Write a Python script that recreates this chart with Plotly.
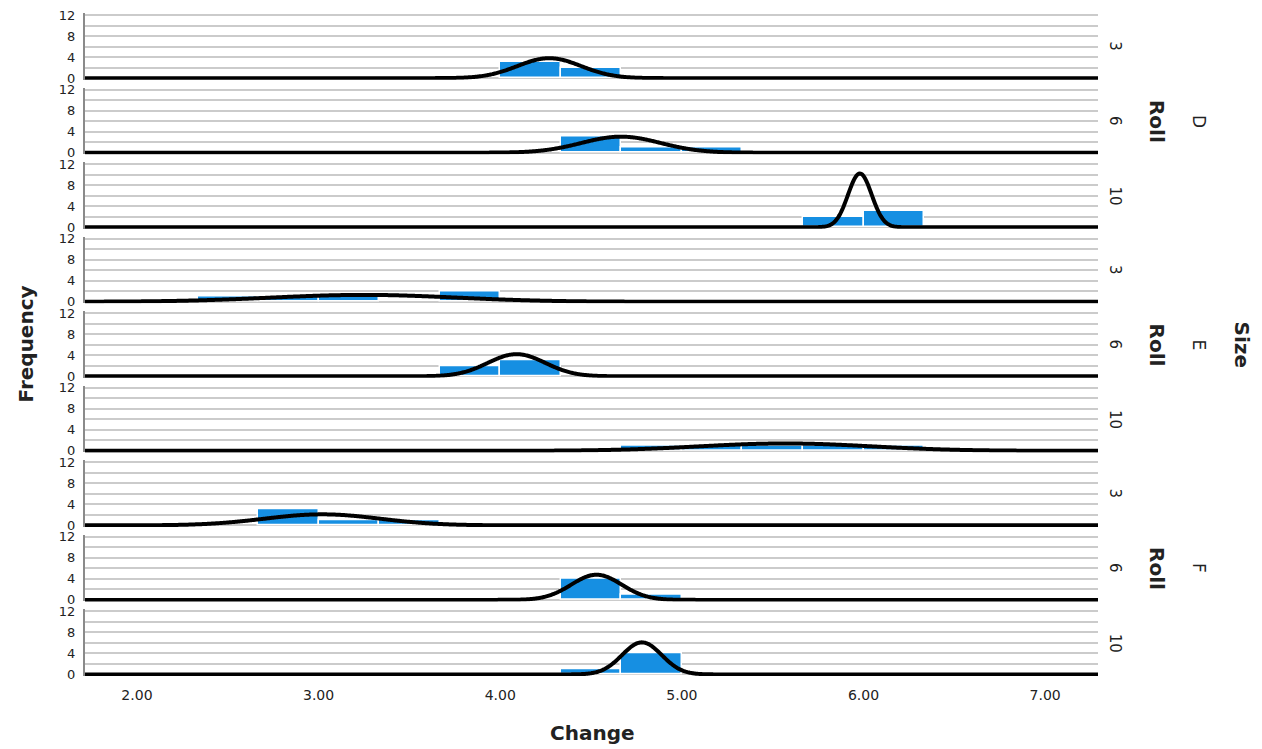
import numpy as np
import plotly.graph_objects as go
from plotly.subplots import make_subplots

# ---------------- data ----------------
size_groups = ["D", "E", "F"]
roll_levels = ["3", "6", "10"]

# lower edge of each histogram bin (bin width = 1/3) and its frequency, per panel
bin_lower_edges = [
    [4.00, 4.33],                    # D, 3
    [4.33, 4.67, 5.00],              # D, 6
    [5.67, 6.00],                    # D, 10
    [2.33, 2.67, 3.00, 3.67],        # E, 3
    [3.67, 4.00],                    # E, 6
    [4.67, 5.00, 5.33, 5.67, 6.00],  # E, 10
    [2.67, 3.00, 3.33],              # F, 3
    [4.33, 4.67],                    # F, 6
    [4.33, 4.67],                    # F, 10
]
bin_counts = [
    [3, 2],
    [3, 1, 1],
    [2, 3],
    [1, 1, 1, 2],
    [2, 3],
    [1, 1, 1, 1, 1],
    [3, 1, 1],
    [4, 1],
    [1, 4],
]
# fitted normal curve parameters per panel
curve_means = [4.27, 4.665, 5.98, 3.25, 4.09, 5.57, 3.02, 4.53, 4.78]
curve_sds = [0.175, 0.218, 0.065, 0.51, 0.158, 0.475, 0.317, 0.139, 0.109]

x_tick_vals = [2, 3, 4, 5, 6, 7]
y_tick_vals = [0, 2, 4, 6, 8, 10, 12]
y_tick_text = ["0", "", "4", "", "8", "", "12"]

BIN_WIDTH = 1 / 3
X_RANGE = [1.714, 7.291]
Y_RANGE = [-0.3, 12.4]

# ---------------- figure ----------------
n_rows = 9
W, H = 1262, 749
ML, MR, MT, MB = 85, 164, 13, 73
plot_h = H - MT - MB
gap_px = 7.8

fig = make_subplots(rows=n_rows, cols=1, shared_xaxes=True,
                    vertical_spacing=gap_px / plot_h)

BAR_COLOR = "#168fe2"
FONT = "DejaVu Sans"

xs = np.linspace(X_RANGE[0], X_RANGE[1], 1200)
for i in range(n_rows):
    edges = bin_lower_edges[i]
    counts = bin_counts[i]
    centers = [round(e * 3) / 3 + BIN_WIDTH / 2 for e in edges]
    fig.add_trace(go.Bar(x=centers, y=counts, width=[BIN_WIDTH] * len(centers),
                         marker=dict(color=BAR_COLOR, line=dict(color="white", width=1.5)),
                         showlegend=False, hoverinfo="skip"), row=i + 1, col=1)
    n = sum(counts)
    mu, sd = curve_means[i], curve_sds[i]
    ys = n * BIN_WIDTH * np.exp(-0.5 * ((xs - mu) / sd) ** 2) / (sd * np.sqrt(2 * np.pi))
    fig.add_trace(go.Scatter(x=xs, y=ys, mode="lines",
                             line=dict(color="black", width=4, simplify=False),
                             showlegend=False, hoverinfo="skip"), row=i + 1, col=1)

for i in range(n_rows):
    fig.update_yaxes(range=Y_RANGE, tickvals=y_tick_vals, ticktext=y_tick_text,
                     showgrid=True, gridcolor="#cbcbcb", gridwidth=2,
                     zeroline=False, showline=True, linecolor="#8a8a8a", linewidth=2,
                     ticks="outside", ticklen=5, tickcolor="rgba(0,0,0,0)",
                     tickfont=dict(family=FONT, size=13, color="#222"),
                     automargin=False, fixedrange=True, row=i + 1, col=1)
    fig.update_xaxes(range=X_RANGE, tickvals=x_tick_vals,
                     ticktext=[f"{v:.2f}" for v in x_tick_vals],
                     showgrid=False, zeroline=False, showline=False,
                     ticks="outside", ticklen=6, tickcolor="rgba(0,0,0,0)",
                     tickfont=dict(family=FONT, size=14, color="#222"),
                     automargin=False, row=i + 1, col=1)

def px_to_paper_x(px):
    return (px - ML) / (W - ML - MR)

annotations = []
for i in range(n_rows):
    yref = "y domain" if i == 0 else f"y{i + 1} domain"
    annotations.append(dict(text=roll_levels[i % 3], xref="paper", yref=yref,
                            x=px_to_paper_x(1115), y=0.5, textangle=90,
                            showarrow=False, xanchor="center", yanchor="middle",
                            font=dict(family=FONT, size=15, color="#222")))
for g, s in enumerate(size_groups):
    mid_row = g * 3 + 1
    yref = f"y{mid_row + 1} domain"
    annotations.append(dict(text="<b>Roll</b>", xref="paper", yref=yref,
                            x=px_to_paper_x(1157), y=0.5, textangle=90,
                            showarrow=False, xanchor="center", yanchor="middle",
                            font=dict(family=FONT, size=20, color="#222")))
    annotations.append(dict(text=s, xref="paper", yref=yref,
                            x=px_to_paper_x(1199), y=0.5, textangle=90,
                            showarrow=False, xanchor="center", yanchor="middle",
                            font=dict(family=FONT, size=17, color="#222")))
annotations.append(dict(text="<b>Size</b>", xref="paper", yref="paper",
                        x=px_to_paper_x(1242), y=0.5, textangle=90,
                        showarrow=False, xanchor="center", yanchor="middle",
                        font=dict(family=FONT, size=20, color="#222")))
annotations.append(dict(text="<b>Frequency</b>", xref="paper", yref="paper",
                        x=px_to_paper_x(25), y=0.5, textangle=-90,
                        showarrow=False, xanchor="center", yanchor="middle",
                        font=dict(family=FONT, size=20, color="#222")))
annotations.append(dict(text="<b>Change</b>", xref="paper", yref="paper",
                        x=px_to_paper_x(592), y=(H - MB - 733) / plot_h,
                        showarrow=False, xanchor="center", yanchor="middle",
                        font=dict(family=FONT, size=20, color="#222")))

fig.update_layout(width=W, height=H,
                  margin=dict(l=ML, r=MR, t=MT, b=MB, autoexpand=False),
                  paper_bgcolor="white", plot_bgcolor="white",
                  bargap=0, barmode="overlay",
                  annotations=annotations,
                  font=dict(family=FONT))

fig.write_html("out.html")
